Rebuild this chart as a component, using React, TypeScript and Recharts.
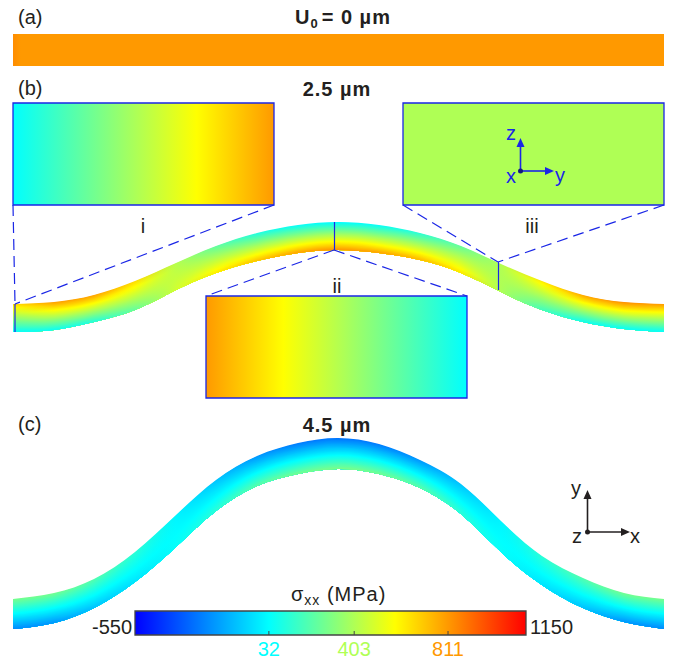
import * as React from "react"
import { ComposedChart, Area, XAxis, YAxis, ReferenceArea, ReferenceLine, ReferenceDot } from "recharts"

const FONT = "'Liberation Sans', Arial, sans-serif"
const BLUE = "#1a26e6"
const DARK = "#231f20"

// stations along the beam (figure x), evenly spaced so the spline stays smooth
const stations = [13, 54, 94, 135, 176, 216, 257, 298, 338, 379, 420, 461, 501, 542, 583, 624, 664]

// edges of the beam at 2.5 um and 4.5 um
const beamBTop = [304, 302, 295, 281, 263, 246, 233, 225, 222, 225, 233, 246, 264, 281, 295, 302, 304]
const beamBBottom = [332, 330, 322, 310, 290, 273, 261, 253, 250, 253, 260, 273, 292, 310, 322, 329, 332]
const beamCTop = [599, 593, 579, 552, 515, 480, 456, 443, 438, 444, 460, 484, 521, 556, 578, 593, 599]
const beamCBottom = [629, 623, 608, 582, 547, 511, 486, 474, 469, 474, 488, 514, 552, 585, 608, 622, 629]

// stress (MPa) on the two edges
const stressBTop = [650, 790, 785, 660, 420, 240, 105, 50, 32, 50, 125, 250, 410, 620, 775, 830, 800]
const stressBBottom = [40, 50, 95, 240, 480, 630, 730, 800, 830, 800, 750, 640, 400, 170, 55, 35, 30]
const stressCTop = [280, 270, 205, 120, 10, -100, -205, -265, -285, -265, -205, -100, 10, 120, 205, 270, 280]
const stressCBottom = [-240, -215, -110, -30, 45, 125, 225, 280, 300, 280, 225, 125, 45, -30, -110, -215, -240]

// stress across the insets and the flat beam
const stressA = [840, 811, 811, 811, 811, 811]
const stressInsetI = [32, 811]
const stressInsetII = [811, 32]
const stressInsetIII = [403, 403]

// colour scale
const scaleValues = [-550, 32, 403, 580, 811, 1150]
const scaleRgb = [
  [0, 0, 255],
  [0, 255, 255],
  [175, 255, 85],
  [255, 255, 0],
  [255, 153, 0],
  [255, 0, 0],
]
const colorbarRange = [-550, 1150]
const colorbarTicks = [32, 403, 811]

const layers = Array.from({ length: 44 }, (_, i) => i / 44)

const colorOf = (v: number) => {
  let i = 0
  while (i < scaleValues.length - 2 && v > scaleValues[i + 1]) i++
  const f = Math.min(1, Math.max(0, (v - scaleValues[i]) / (scaleValues[i + 1] - scaleValues[i])))
  const c = scaleRgb[i].map((a, k) => Math.round(a + (scaleRgb[i + 1][k] - a) * f))
  return `rgb(${c[0]},${c[1]},${c[2]})`
}

// stops so the gradient follows the colour scale, not a straight rgb ramp
const rampStops = (from: number, to: number) => {
  const inner = scaleValues.filter((v) => v > Math.min(from, to) && v < Math.max(from, to))
  if (from > to) inner.reverse()
  const vals = [from, ...inner, to]
  return vals.map((v) => ({ offset: (v - from) / (to - from), color: colorOf(v) }))
}

const table = stations.map((x, i) => ({
  x,
  bTop: beamBTop[i],
  bBottom: beamBBottom[i],
  cTop: beamCTop[i],
  cBottom: beamCBottom[i],
}))

const Ramp = ({ id, from, to }: { id: string; from: number; to: number }) => (
  <linearGradient id={id} x1="0" y1="0" x2="1" y2="0">
    {rampStops(from, to).map((s, i) => (
      <stop key={i} offset={s.offset} stopColor={s.color} />
    ))}
  </linearGradient>
)

const layerGradient = (id: string, t: number, top: number[], bottom: number[]) => (
  <linearGradient key={id} id={id} x1="0" y1="0" x2="1" y2="0">
    {stations.map((x, i) => (
      <stop
        key={x}
        offset={(x - stations[0]) / (stations[stations.length - 1] - stations[0])}
        stopColor={colorOf(top[i] + (bottom[i] - top[i]) * t)}
      />
    ))}
  </linearGradient>
)

const arrowUp = (color: string) => (p: any) =>
  <polygon points={`${p.cx},${p.cy} ${p.cx - 4},${p.cy + 9} ${p.cx + 4},${p.cy + 9}`} fill={color} />
const arrowRight = (color: string) => (p: any) =>
  <polygon points={`${p.cx},${p.cy} ${p.cx - 9},${p.cy - 4} ${p.cx - 9},${p.cy + 4}`} fill={color} />

const note = (label: string, color: string) => (p: any) =>
  (
    <text x={p.cx} y={p.cy} fontFamily={FONT} fontSize={20} fill={color} textAnchor="middle">
      {label}
    </text>
  )

const barX = (v: number) => 135 + ((v - colorbarRange[0]) / (colorbarRange[1] - colorbarRange[0])) * 391

const bold = { fontFamily: FONT, fontSize: 20, fontWeight: 700, fill: DARK, textAnchor: "middle" as const, letterSpacing: 1 }
const plain = { fontFamily: FONT, fontSize: 20, fill: DARK }
const dash = { stroke: BLUE, strokeWidth: 1.2, strokeDasharray: "11 6" }

export default function App() {
  return (
    <div style={{ position: "absolute", left: 0, top: 0 }}>
      <ComposedChart width={677} height={662} data={table} margin={{ top: 0, right: 0, bottom: 0, left: 0 }}>
        <defs>
          <linearGradient id="flat" x1="0" y1="0" x2="1" y2="0">
            {stressA.map((v, i) => (
              <stop key={i} offset={i === 0 ? 0 : i === 1 ? 0.012 : i / 5} stopColor={colorOf(v)} />
            ))}
          </linearGradient>
          <Ramp id="insetI" from={stressInsetI[0]} to={stressInsetI[1]} />
          <Ramp id="insetII" from={stressInsetII[0]} to={stressInsetII[1]} />
          <Ramp id="bar" from={colorbarRange[0]} to={colorbarRange[1]} />
          {layers.map((t, i) => layerGradient(`b${i}`, t, stressBTop, stressBBottom))}
          {layers.map((t, i) => layerGradient(`c${i}`, t, stressCTop, stressCBottom))}
        </defs>
        <XAxis type="number" dataKey="x" domain={[0, 677]} hide />
        <YAxis type="number" domain={[0, 662]} reversed hide />

        <ReferenceArea x1={13} x2={664} y1={34} y2={66} fill="url(#flat)" fillOpacity={1} stroke="none" />

        {layers.map((t, i) => (
          <Area
            key={`b${i}`}
            dataKey={(d: any) => [d.bTop + (d.bBottom - d.bTop) * t, d.bBottom]}
            type="natural"
            fill={`url(#b${i})`}
            fillOpacity={1}
            stroke="none"
            dot={false}
            activeDot={false}
            isAnimationActive={false}
          />
        ))}
        {layers.map((t, i) => (
          <Area
            key={`c${i}`}
            dataKey={(d: any) => [d.cTop + (d.cBottom - d.cTop) * t, d.cBottom]}
            type="natural"
            fill={`url(#c${i})`}
            fillOpacity={1}
            stroke="none"
            dot={false}
            activeDot={false}
            isAnimationActive={false}
          />
        ))}

        <ReferenceArea x1={13} x2={274} y1={103} y2={205} fill="url(#insetI)" fillOpacity={1} stroke={BLUE} strokeWidth={1.3} />
        <ReferenceArea x1={206} x2={467} y1={296} y2={398} fill="url(#insetII)" fillOpacity={1} stroke={BLUE} strokeWidth={1.3} />
        <ReferenceArea x1={403} x2={664} y1={103} y2={205} fill={colorOf(stressInsetIII[0])} fillOpacity={1} stroke={BLUE} strokeWidth={1.3} />

        <ReferenceLine segment={[{ x: 13, y: 205 }, { x: 15, y: 304 }]} {...dash} />
        <ReferenceLine segment={[{ x: 274, y: 205 }, { x: 15, y: 304 }]} {...dash} />
        <ReferenceLine segment={[{ x: 334, y: 250 }, { x: 206, y: 296 }]} {...dash} />
        <ReferenceLine segment={[{ x: 334, y: 250 }, { x: 467, y: 296 }]} {...dash} />
        <ReferenceLine segment={[{ x: 403, y: 205 }, { x: 498, y: 262 }]} {...dash} />
        <ReferenceLine segment={[{ x: 664, y: 205 }, { x: 498, y: 262 }]} {...dash} />
        <ReferenceLine segment={[{ x: 15, y: 304 }, { x: 15, y: 332 }]} stroke={BLUE} strokeWidth={1.2} />
        <ReferenceLine segment={[{ x: 334.5, y: 222 }, { x: 334.5, y: 250 }]} stroke={BLUE} strokeWidth={1.2} />
        <ReferenceLine segment={[{ x: 498.5, y: 262 }, { x: 498.5, y: 290 }]} stroke={BLUE} strokeWidth={1.2} />

        {/* inset axes */}
        <ReferenceLine segment={[{ x: 520.5, y: 171 }, { x: 520.5, y: 146 }]} stroke={BLUE} strokeWidth={1.6} />
        <ReferenceLine segment={[{ x: 520.5, y: 171 }, { x: 546, y: 171 }]} stroke={BLUE} strokeWidth={1.6} />
        <ReferenceDot x={520.5} y={138} shape={arrowUp(BLUE)} />
        <ReferenceDot x={554} y={171} shape={arrowRight(BLUE)} />
        <ReferenceDot x={520.5} y={171} r={2.5} fill="#141a80" stroke="none" />
        <ReferenceDot x={511} y={140} shape={note("z", BLUE)} />
        <ReferenceDot x={511} y={183} shape={note("x", BLUE)} />
        <ReferenceDot x={560} y={182} shape={note("y", BLUE)} />

        {/* figure axes */}
        <ReferenceLine segment={[{ x: 587.5, y: 532 }, { x: 587.5, y: 498 }]} stroke={DARK} strokeWidth={1.6} />
        <ReferenceLine segment={[{ x: 587.5, y: 532 }, { x: 622, y: 532 }]} stroke={DARK} strokeWidth={1.6} />
        <ReferenceDot x={587.5} y={490} shape={arrowUp(DARK)} />
        <ReferenceDot x={630} y={532} shape={arrowRight(DARK)} />
        <ReferenceDot x={587.5} y={532} r={2.5} fill={DARK} stroke="none" />

        {/* colour bar */}
        <ReferenceArea x1={135} x2={526} y1={611} y2={635} fill="url(#bar)" fillOpacity={1} stroke="#444" strokeWidth={1.3} />
        {colorbarTicks.map((v) => (
          <ReferenceLine key={v} segment={[{ x: barX(v), y: 635 }, { x: barX(v), y: 631 }]} stroke="#444" strokeWidth={1} />
        ))}

        <text x={18} y={24} {...plain}>(a)</text>
        <text x={18} y={95} {...plain}>(b)</text>
        <text x={18} y={431} {...plain}>(c)</text>

        <text x={295} y={24} {...bold} textAnchor="start">
          U<tspan fontSize={13} dy={4}>0</tspan>
          <tspan dy={-4} dx={3}>= 0 µm</tspan>
        </text>
        <text x={337} y={96} {...bold}>2.5 µm</text>
        <text x={337} y={432} {...bold}>4.5 µm</text>

        <text x={143} y={233} {...plain} textAnchor="middle">i</text>
        <text x={337} y={293} {...plain} textAnchor="middle">ii</text>
        <text x={532} y={233} {...plain} textAnchor="middle">iii</text>

        <text x={576} y={495} {...plain} textAnchor="middle">y</text>
        <text x={577} y={543} {...plain} textAnchor="middle">z</text>
        <text x={635} y={543} {...plain} textAnchor="middle">x</text>

        <text x={291} y={601} {...plain} letterSpacing={1}>
          σ<tspan fontSize={14} dy={4}>xx</tspan>
          <tspan dy={-4}> (MPa)</tspan>
        </text>
        <text x={132} y={634} {...plain} textAnchor="end">-550</text>
        <text x={530} y={634} {...plain}>1150</text>
        {colorbarTicks.map((v) => (
          <text key={v} x={barX(v)} y={656} {...plain} fill={colorOf(v)} textAnchor="middle">
            {v}
          </text>
        ))}
      </ComposedChart>
    </div>
  )
}
